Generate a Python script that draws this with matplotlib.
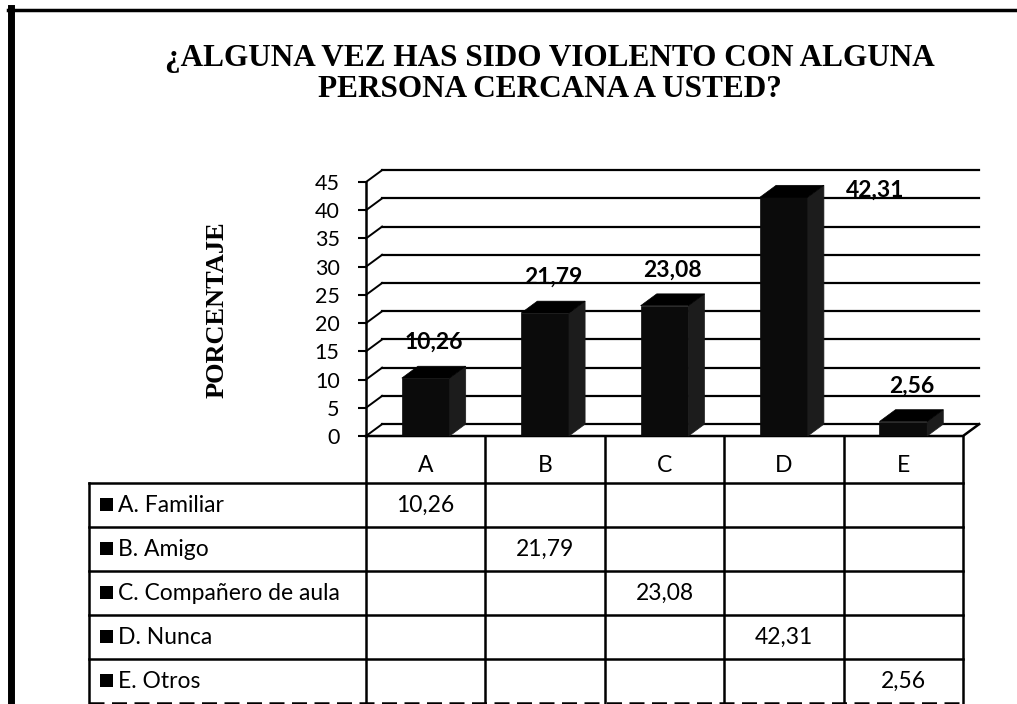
import numpy as np
import matplotlib
matplotlib.use('Agg')
import matplotlib.pyplot as plt
from matplotlib.patches import Polygon, Rectangle

plt.rcParams['font.family'] = ['Lato', 'DejaVu Sans']

categories = ['A', 'B', 'C', 'D', 'E']
series_names = ['A. Familiar', 'B. Amigo', 'C. Compañero de aula', 'D. Nunca', 'E. Otros']
values = [10.26, 21.79, 23.08, 42.31, 2.56]
value_labels = ['10,26', '21,79', '23,08', '42,31', '2,56']
y_ticks = [0, 5, 10, 15, 20, 25, 30, 35, 40, 45]

title = '¿ALGUNA VEZ HAS SIDO VIOLENTO CON ALGUNA\nPERSONA CERCANA A USTED?'
y_title = 'PORCENTAJE'

W, H = 1017, 704
fig = plt.figure(figsize=(W / 100, H / 100), dpi=100)

# background axes in pixel units (frame + data table)
bg = fig.add_axes([0, 0, 1, 1])
bg.set_xlim(0, W)
bg.set_ylim(H, 0)
bg.axis('off')

# plot area (pixels)
L, R, B, T = 366, 963, 436, 182
ax = fig.add_axes([L / W, 1 - B / H, (R - L) / W, (B - T) / H])
ax.patch.set_visible(False)
ax.set_xlim(-0.5, len(categories) - 0.5)
ax.set_ylim(0, 45)
DX, DY = 0.135, 2.1  # depth of the fake 3d walls

x = np.arange(len(categories))
nx = len(categories)

# back wall + side wall gridlines
for v in y_ticks:
    ax.plot([-0.5 + DX, nx - 0.5 + DX], [v + DY, v + DY], color='black', lw=1.6, clip_on=False, zorder=1)
    ax.plot([-0.5, -0.5 + DX], [v, v + DY], color='black', lw=1.4, clip_on=False, zorder=1)
# floor
ax.plot([-0.5, nx - 0.5, nx - 0.5 + DX], [0, 0, DY], color='black', lw=1.8, clip_on=False, zorder=2)

# bars
bw = 0.40
ax.bar(x, values, width=bw, color='#0b0b0b', edgecolor='#0b0b0b', lw=0.5, zorder=3)
for xi, v in zip(x, values):
    side = [(xi + bw / 2, 0), (xi + bw / 2 + DX, DY), (xi + bw / 2 + DX, v + DY), (xi + bw / 2, v)]
    top = [(xi - bw / 2, v), (xi + bw / 2, v), (xi + bw / 2 + DX, v + DY), (xi - bw / 2 + DX, v + DY)]
    ax.add_patch(Polygon(side, closed=True, facecolor='#1c1c1c', edgecolor='#1c1c1c', lw=0.5, zorder=3, clip_on=False))
    ax.add_patch(Polygon(top, closed=True, facecolor='#000000', edgecolor='#000000', lw=0.5, zorder=3, clip_on=False))

# data labels
for xi, v, lab in zip(x, values, value_labels):
    if v > 40:
        ax.text(xi + 0.76, v + 1.3, lab, ha='center', va='center', fontsize=16.5, fontweight='bold', clip_on=False)
    else:
        ax.text(xi + DX / 2, v + 6.3, lab, ha='center', va='center', fontsize=16.5, fontweight='bold', clip_on=False)

ax.set_yticks(y_ticks)
ax.set_yticklabels([str(t) for t in y_ticks], fontsize=15.5)
ax.set_xticks([])
ax.tick_params(axis='y', direction='out', length=6, width=1.5, pad=13)
for s in ['top', 'right', 'bottom']:
    ax.spines[s].set_visible(False)
ax.spines['left'].set_linewidth(1.8)

# titles
fig.text(550 / W, 1 - 74 / H, title, ha='center', va='center', fontsize=22.5, fontweight='bold',
         family='Liberation Serif', linespacing=1.05)
fig.text(217 / W, 1 - 310 / H, y_title, ha='center', va='center', rotation=90, fontsize=19,
         fontweight='bold', family='Liberation Serif')

# data table under the chart
col_edges = [L + i * (R - L) / nx for i in range(nx + 1)]
tab_left, row_top, row_h = 89, 483, 44
lc = 'black'
for cx in col_edges:
    bg.plot([cx, cx], [B, H], color=lc, lw=1.8)
bg.plot([tab_left, tab_left], [row_top, H], color=lc, lw=1.8)
for k in range(len(series_names) + 1):
    yy = row_top + k * row_h
    bg.plot([tab_left, R], [yy, yy], color=lc, lw=1.8, ls='-' if k < len(series_names) else (0, (6, 3)))

for i, c in enumerate(categories):
    cx = (col_edges[i] + col_edges[i + 1]) / 2
    bg.text(cx, 466, c, ha='center', va='center', fontsize=16.5)

for i, name in enumerate(series_names):
    cy = row_top + (i + 0.5) * row_h
    bg.add_patch(Rectangle((100, cy - 7), 13, 13, facecolor='black', edgecolor='none'))
    bg.text(118, cy, name, ha='left', va='center', fontsize=16.5)
    cx = (col_edges[i] + col_edges[i + 1]) / 2
    bg.text(cx, cy, value_labels[i], ha='center', va='center', fontsize=16.5)

# frame
bg.plot([11, 11], [8, H], color='black', lw=5)
bg.plot([8, W], [10, 10], color='black', lw=2.5)

fig.savefig('out.png', dpi=100)
